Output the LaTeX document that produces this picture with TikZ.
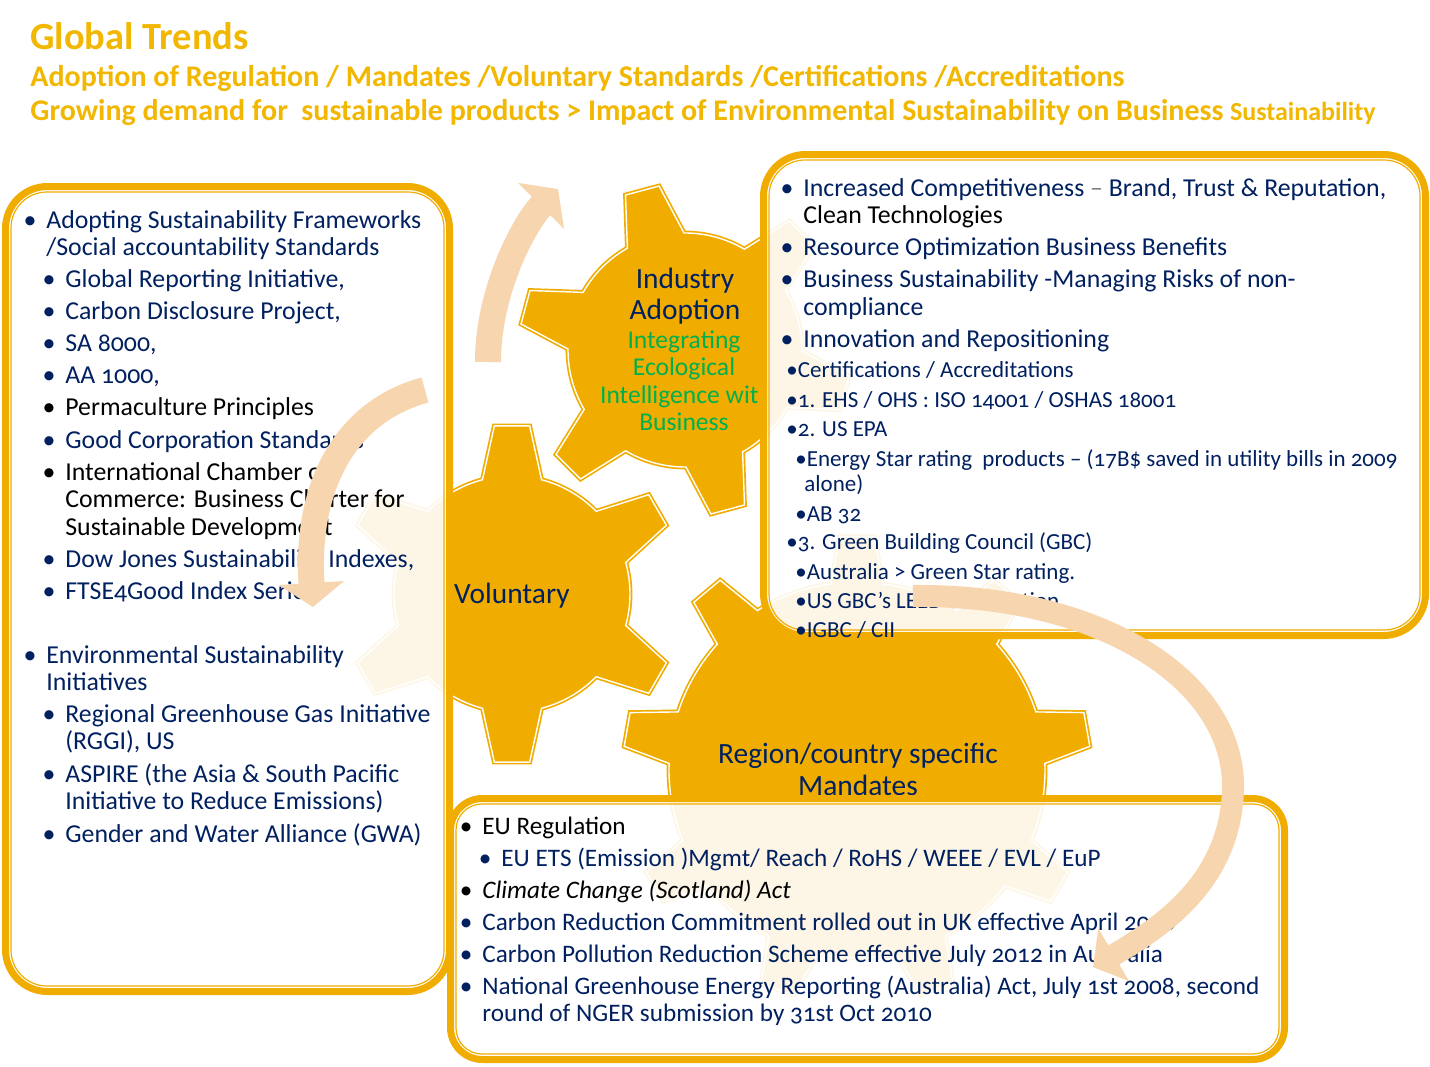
\documentclass[tikz,border=0pt]{standalone}
\usepackage{fontspec}
\setmainfont{Carlito}[Numbers=OldStyle]
\usetikzlibrary{arrows.meta}

\definecolor{gold}{HTML}{F0AD00}
\definecolor{headgold}{HTML}{F2B700}
\definecolor{navy}{HTML}{002060}
\definecolor{leaf}{HTML}{00B050}
\definecolor{peach}{HTML}{F7D5AE}

\newcommand\bul{\llap{•\hspace{5pt}}}

\tikzset{
  gear/.style={fill=gold, draw=white, line width=0.7pt, preaction={draw=gold, line width=2.4pt}},
  panel/.style={fill=white, fill opacity=0.9, draw=gold, line width=3.5pt, rounded corners=21pt},
  rim/.style={draw=gold, line width=0.6pt, rounded corners=18pt},
  txt/.style={anchor=base west, inner sep=0pt, text=navy, font=\fontsize{12.9}{15}\selectfont},
  btxt/.style={txt, font=\fontsize{12.6}{15}\selectfont},
  small/.style={txt, font=\fontsize{11.5}{13}\selectfont},
  cogtxt/.style={anchor=base, inner sep=0pt, text=navy, font=\fontsize{14.7}{17}\selectfont},
  greentxt/.style={cogtxt, text=leaf, font=\fontsize{12.8}{15}\selectfont},
  head/.style={anchor=base west, inner sep=0pt, text=headgold, font=\bfseries\fontsize{15}{17}\selectfont},
  flow/.style={peach, line width=13pt, -{Triangle[width=32pt,length=12pt]}},
}

\begin{document}
\begin{tikzpicture}[x=0.5pt, y=-0.5pt]
	\useasboundingbox (0,0) rectangle (1430,1066);
	\fill[white] (0,0) rectangle (1430,1066);

	% headings
	\node[head, font=\bfseries\fontsize{19.2}{21}\selectfont] (title) at (30,49) {Global Trends};
	\node[head] (sub1) at (30,86) {Adoption of Regulation / Mandates /Voluntary Standards /Certifications /Accreditations};
	\node[head] (sub2) at (30,120) {Growing demand for~~sustainable products > Impact of Environmental Sustainability on Business {\fontsize{13}{15}\selectfont Sustainability}};

	% gears
	\foreach \gx/\gy/\gn/\ga/\go/\gi/\gt/\gr in {685/350/6/15/166/117/6/14.5, 512/594/6/30/169/118/6/14.5, 857/770/9/30/234/188/4.2/8}{
		\pgfmathsetmacro\gs{360/\gn}
		\pgfmathtruncatemacro\gm{\gn-1}
		\begin{scope}[shift={(\gx,\gy)}]
			\draw[gear] ({\ga-\gr}:\gi)
				\foreach \k in {0,...,\gm}{
					-- ({\ga+\k*\gs-\gt}:\go) -- ({\ga+\k*\gs+\gt}:\go) -- ({\ga+\k*\gs+\gr}:\gi)
					arc[start angle={\ga+\k*\gs+\gr}, end angle={\ga+(\k+1)*\gs-\gr}, radius=\gi]
				} -- cycle;
		\end{scope}
	}

	\node[cogtxt] (ind1) at (685,288) {Industry};
	\node[cogtxt] (ind2) at (685,319) {Adoption};
	\node[greentxt] (eco1) at (684,348) {Integrating};
	\node[greentxt] (eco2) at (684,375) {Ecological};
	\node[greentxt] (eco3) at (686,403) {Intelligence with};
	\node[greentxt] (eco4) at (684,430) {Business};
	\node[cogtxt] (vol) at (512,603) {Voluntary};
	\node[cogtxt] (reg1) at (858,763) {Region/country specific};
	\node[cogtxt] (reg2) at (858,795) {Mandates};

	% panels
	\draw[panel] (5.5,186.5) rectangle (449.5,991.5);
	\draw[rim] (11,192) rectangle (444,986);
	\draw[panel] (763.5,154.5) rectangle (1425.5,635.5);
	\draw[rim] (769,160) rectangle (1420,630);
	\draw[panel, rounded corners=16pt] (450.5,798.5) rectangle (1284.5,1059.5);
	\draw[rim, rounded corners=13pt] (456,804) rectangle (1279,1054);

	% left panel
	\foreach \tx/\ty/\lbl [count=\i] in {
		46/228/{\bul Adopting  Sustainability Frameworks},
		46/255/{/Social accountability Standards},
		65/287/{\bul Global Reporting Initiative,},
		65/319/{\bul Carbon Disclosure Project,},
		65/351/{\bul SA 8000,},
		65/383/{\bul AA 1000,},
		65/415/{\color{black}\bul Permaculture Principles},
		65/448/{\bul Good Corporation Standards},
		65/480/{\color{black}\bul International Chamber of},
		65/507/{\color{black}Commerce: Business Charter for},
		65/535/{\color{black}Sustainable Development},
		65/567/{\bul Dow Jones Sustainability Indexes,},
		65/599/{\bul FTSE4Good Index Series},
		46/663/{\bul Environmental Sustainability},
		46/690/{Initiatives},
		65/722/{\bul Regional Greenhouse Gas Initiative},
		65/749/{(RGGI), US},
		65/782/{\bul ASPIRE (the Asia \& South Pacific},
		65/809/{Initiative to Reduce Emissions)},
		65/842/{\bul Gender and Water Alliance (GWA)}}
		\node[txt] (left\i) at (\tx,\ty) {\lbl};

	% right panel
	\foreach \tx/\ty/\lbl [count=\i] in {
		803/196/{\bul Increased Competitiveness \textcolor{gray}{–} Brand, Trust \& Reputation,},
		803/223/{\color{black}Clean Technologies},
		803/255/{\bul Resource Optimization Business Benefits},
		803/287/{\bul Business Sustainability -Managing Risks of non-},
		803/315/{compliance},
		803/347/{\bul Innovation and Repositioning}}
		\node[txt] (right\i) at (\tx,\ty) {\lbl};
	\foreach \tx/\ty/\lbl [count=\i] in {
		786/377/{•Certifications / Accreditations},
		786/407/{•1. EHS / OHS : ISO 14001 / OSHAS 18001},
		786/436/{•2. US EPA},
		795/466/{•Energy Star rating~~products – (17B\$ saved in utility bills in 2009},
		804/491/{alone)},
		795/521/{•AB 32},
		786/549/{•3. Green Building Council (GBC)},
		795/579/{•Australia > Green Star rating.},
		795/608/{•US GBC’s LEED certification},
		795/637/{•IGBC / CII}}
		\node[small] (cert\i) at (\tx,\ty) {\lbl};

	% bottom panel
	\foreach \tx/\ty/\lbl [count=\i] in {
		482/834/{\color{black}\bul EU Regulation},
		501/866/{\bul EU ETS (Emission )Mgmt/ Reach / RoHS / WEEE / EVL / EuP},
		482/898/{\color{black}\bul\textit{Climate Change (Scotland) Act}},
		482/930/{\bul Carbon Reduction Commitment rolled out in UK effective April 2010},
		482/962/{\bul Carbon Pollution Reduction Scheme effective July 2012 in Australia},
		482/994/{\bul National Greenhouse Energy Reporting (Australia) Act, July 1st 2008, second},
		482/1021/{round of NGER submission by 31st Oct 2010}}
		\node[btxt] (eu\i) at (\tx,\ty) {\lbl};

	% curved arrows
	\coordinate (up0) at (488,362);
	\coordinate (up1) at (558,189);
	\coordinate (dn0) at (425,390);
	\coordinate (dn1) at (313,607);
	\coordinate (rt0) at (913,596);
	\coordinate (rt1) at (1233,790);
	\coordinate (rt2) at (1093,967);
	\draw[flow] (up0) .. controls (488,290) and (525,222) .. (up1);
	\draw[flow] (dn0) .. controls (350,410) and (305,480) .. (dn1);
	\draw[flow, line width=11pt, -{Triangle[width=30pt,length=12pt]}] (rt0) .. controls (1100,594) and (1236,680) .. (rt1)
		.. controls (1230,880) and (1165,925) .. (rt2);
\end{tikzpicture}
\end{document}
